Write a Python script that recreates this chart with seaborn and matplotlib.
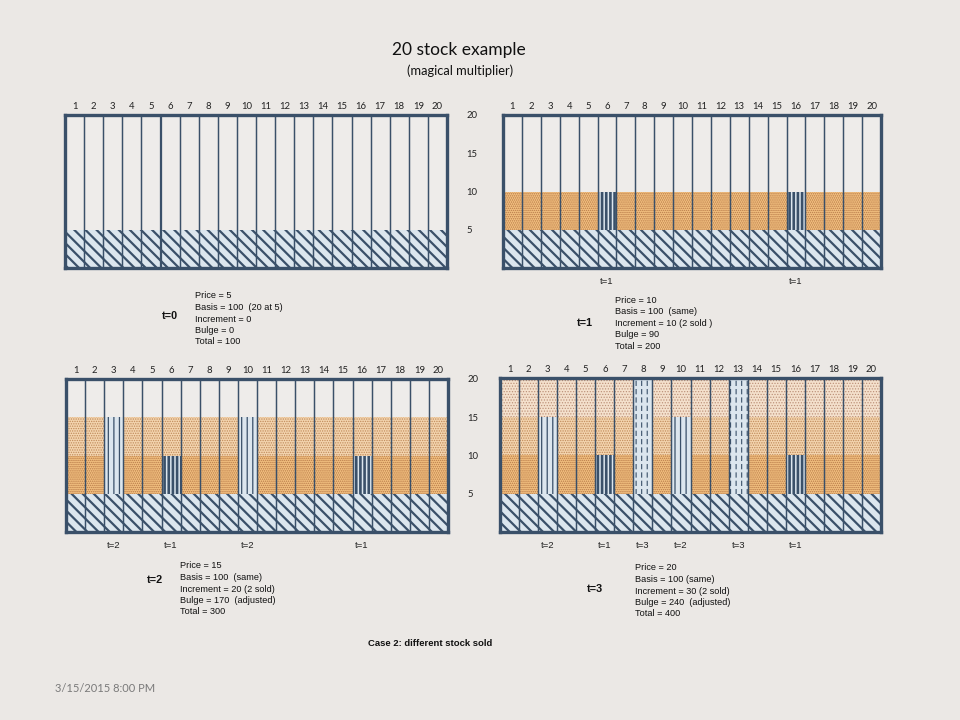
import matplotlib
matplotlib.use("Agg")
import matplotlib.pyplot as plt
import seaborn as sns

# ---- data ----
stocks = list(range(1, 21))
periods = [0, 1, 2, 3]
prices = [5, 10, 15, 20]          # price at t=0..3
basis_level = 5
# period in which each stock was sold (0 = still held)
sold_at = [0, 0, 2, 0, 0, 1, 0, 3, 0, 2, 0, 0, 3, 0, 0, 1, 0, 0, 0, 0]
price_ticks = [5, 10, 15, 20]

info_lines = {
    0: ["Price = 5", "Basis = 100  (20 at 5)", "Increment = 0", "Bulge = 0", "Total = 100"],
    1: ["Price = 10", "Basis = 100  (same)", "Increment = 10 (2 sold )", "Bulge = 90", "Total = 200"],
    2: ["Price = 15", "Basis = 100  (same)", "Increment = 20 (2 sold)", "Bulge = 170  (adjusted)", "Total = 300"],
    3: ["Price = 20", "Basis = 100 (same)", "Increment = 30 (2 sold)", "Bulge = 240  (adjusted)", "Total = 400"],
}

title = "20 stock example"
subtitle = "(magical multiplier)"
caption = "Case 2: different stock sold"
stamp = "3/15/2015 8:00 PM"

# ---- styles ----
BG = "#EBE8E5"
INNER = "#EEECEA"
DARK = "#3A5069"
LIGHT_BLUE = "#DCE6EE"

layer_styles = {  # price band top -> (face, hatch, dot colour, hatch lw)
    10: ("#F2C080", "........", "#B87A48", 0.7),
    15: ("#F3D4AE", ".......", "#C08A5A", 0.65),
    20: ("#F4E0CC", "......", "#BC9078", 0.55),
}
sold_styles = {  # sale period -> (face, hatch, colour, lw)
    1: (LIGHT_BLUE, "||||", DARK, 1.9),
    2: (LIGHT_BLUE, "|||", DARK, 0.9),
    3: (LIGHT_BLUE, "|||", DARK, 0.8),
}

plt.rcParams["font.family"] = ["Lato", "DejaVu Sans"]
plt.rcParams["hatch.linewidth"] = 1.0
ARIAL = ["Liberation Sans", "DejaVu Sans"]


def bars(ax, heights, face, hatch, hcolor, lw):
    with plt.rc_context({"hatch.linewidth": lw}):
        sns.barplot(x=stocks, y=heights, ax=ax, width=1, saturation=1,
                    color=face, hatch=hatch, edgecolor=hcolor, linewidth=0,
                    errorbar=None)


fig = plt.figure(figsize=(9.6, 7.2), dpi=100, facecolor=BG)

# panel boxes in pixels: left, top, right, bottom
boxes = [(65, 115, 447, 268), (503, 115, 881, 268),
         (66, 379, 448, 532), (500, 378, 881, 532)]
axes = []
for (l, t_, r, b) in boxes:
    axes.append(fig.add_axes([l / 960, 1 - b / 720, (r - l) / 960, (b - t_) / 720]))

for t, ax in zip(periods, axes):
    p = prices[t]
    ax.set_facecolor(INNER)

    # price bands above basis, tallest first so shorter ones overlay
    for level in [20, 15, 10]:
        if level <= p:
            face, hatch, hc, lw = layer_styles[level]
            bars(ax, [level] * len(stocks), face, hatch, hc, lw)

    # sold stocks keep the price they were sold at
    for s in [3, 2, 1]:
        if s <= t:
            h = [prices[s] if sold_at[i] == s else 0 for i in range(len(stocks))]
            face, hatch, hc, lw = sold_styles[s]
            bars(ax, h, face, hatch, hc, lw)
            if s == 3:
                # break the vertical lines into dashes
                bars(ax, h, "none", "--", LIGHT_BLUE, 2.2)

    # basis
    bars(ax, [basis_level] * len(stocks), LIGHT_BLUE, "\\\\\\", DARK, 1.6)

    # column outlines
    sns.barplot(x=stocks, y=[max(prices)] * len(stocks), ax=ax, width=1,
                fill=False, color=DARK, linewidth=0.9, errorbar=None)

    ax.set_xlim(-0.5, len(stocks) - 0.5)
    ax.set_ylim(0, max(prices))
    ax.set_xlabel("")
    ax.set_ylabel("")
    ax.xaxis.tick_top()
    ax.tick_params(axis="x", length=0, pad=3, labelsize=6.8, colors="#222222")
    if t in (0, 2):
        ax.yaxis.tick_right()
        ax.set_yticks(price_ticks)
        ax.set_yticklabels([str(v) for v in price_ticks])
        ax.tick_params(axis="y", length=0, pad=14, labelsize=6.8, colors="#222222")
    else:
        ax.set_yticks([])
    for sp in ax.spines.values():
        sp.set_color(DARK)
        sp.set_linewidth(2.4)
        sp.set_zorder(5)

    # sale labels under the columns
    for i, s in enumerate(sold_at):
        if 0 < s <= t:
            ax.text(i, -0.085, f"t={s}", transform=ax.get_xaxis_transform(),
                    ha="center", va="center", fontsize=6.8, family=ARIAL,
                    color="#222222")

# info blocks: (label x, label y, text x, first line y) in pixels
info_pos = {0: (170, 316, 195, 296), 1: (585, 323, 615, 300),
            2: (155, 580, 180, 566), 3: (595, 589, 635, 568)}
for t in periods:
    lx, ly, tx, ty = info_pos[t]
    fig.text(lx / 960, 1 - ly / 720, f"t={t}", fontsize=7.8, fontweight="bold",
             family=ARIAL, ha="center", va="center", color="#111111")
    for k, line in enumerate(info_lines[t]):
        fig.text(tx / 960, 1 - (ty + k * 11.5) / 720, line, fontsize=6.6,
                 family=ARIAL, ha="left", va="center", color="#111111")

fig.text(459 / 960, 1 - 50 / 720, title, fontsize=12.5, ha="center", va="center",
         color="#111111")
fig.text(460 / 960, 1 - 71 / 720, subtitle, fontsize=9.3, ha="center", va="center",
         color="#111111")
fig.text(430 / 960, 1 - 643 / 720, caption, fontsize=6.8, fontweight="bold",
         family=ARIAL, ha="center", va="center", color="#111111")
fig.text(55 / 960, 1 - 688 / 720, stamp, fontsize=8, ha="left", va="center",
         color="#7A7A7A")

fig.savefig("out.png", dpi=100, facecolor=BG)
